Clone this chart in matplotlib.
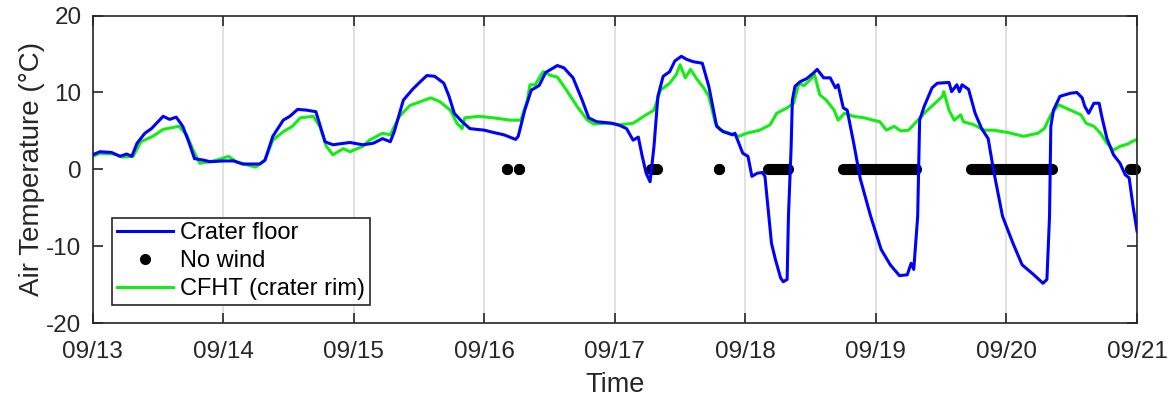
import matplotlib
matplotlib.use('Agg')
import matplotlib.pyplot as plt
from matplotlib.lines import Line2D
import numpy as np

plt.rcParams['font.family'] = ['Liberation Sans', 'DejaVu Sans']
plt.rcParams['axes.unicode_minus'] = False

# time in days since 09/13 00:00, temperature in degC
floor_t = [0.00, 0.056, 0.145, 0.21, 0.26, 0.30, 0.34, 0.40, 0.45, 0.54, 0.59, 0.64, 0.69, 0.74,
           0.78, 0.85, 0.90, 1.00, 1.08, 1.15, 1.28, 1.32, 1.38, 1.46, 1.51, 1.57, 1.64, 1.71,
           1.78, 1.84, 1.97, 2.07, 2.15, 2.22, 2.28, 2.31, 2.38, 2.45, 2.51, 2.56, 2.62, 2.69,
           2.73, 2.77, 2.83, 2.89, 3.00, 3.07, 3.15, 3.24, 3.26, 3.31, 3.36, 3.42, 3.47, 3.56,
           3.61, 3.68, 3.75, 3.80, 3.86, 3.98, 4.04, 4.09, 4.14, 4.18, 4.21, 4.24, 4.27, 4.30,
           4.33, 4.37, 4.42, 4.46, 4.51, 4.55, 4.60, 4.67, 4.72, 4.78, 4.83, 4.90, 4.92, 4.98,
           5.02, 5.05, 5.09, 5.13, 5.15, 5.18, 5.20, 5.23, 5.27, 5.29, 5.32, 5.33, 5.35, 5.36,
           5.38, 5.42, 5.47, 5.52, 5.55, 5.60, 5.65, 5.69, 5.71, 5.75, 5.78, 5.83, 5.88, 5.96,
           6.04, 6.11, 6.18, 6.24, 6.27, 6.29, 6.32, 6.335, 6.37, 6.43, 6.47, 6.56, 6.58, 6.62,
           6.64, 6.66, 6.71, 6.76, 6.81, 6.86, 6.90, 6.97, 7.05, 7.12, 7.21, 7.28, 7.31, 7.33,
           7.34, 7.36, 7.41, 7.49, 7.54, 7.58, 7.60, 7.63, 7.67, 7.71, 7.73, 7.77, 7.82, 7.87,
           7.91, 7.94, 7.97, 8.00]
floor_T = [1.9, 2.3, 2.2, 1.7, 2.0, 1.7, 3.4, 4.7, 5.3, 6.9, 6.5, 6.8, 5.6, 3.4,
           1.4, 1.2, 1.0, 1.1, 1.1, 0.7, 0.7, 1.2, 4.3, 6.4, 6.9, 7.8, 7.7, 7.5,
           3.6, 3.2, 3.5, 3.2, 3.4, 4.0, 3.6, 4.9, 9.0, 10.4, 11.4, 12.2, 12.1, 11.2,
           9.5, 7.3, 6.2, 5.3, 5.1, 4.8, 4.5, 3.9, 4.3, 7.7, 10.3, 10.9, 12.6, 13.5,
           13.2, 11.9, 9.0, 6.7, 6.2, 6.0, 5.7, 5.3, 3.8, 4.2, 1.7, -0.5, -1.6, 3.0,
           9.5, 12.1, 12.7, 14.1, 14.7, 14.3, 14.0, 13.8, 10.8, 5.6, 4.9, 4.5, 4.7, 2.1,
           1.7, -0.9, -0.5, -0.4, -0.9, -6.1, -9.6, -11.7, -14.1, -14.6, -14.3, -6.1, 2.6, 9.0,
           10.8, 11.4, 11.8, 12.5, 13.0, 11.9, 11.9, 10.6, 11.0, 8.0, 7.7, 3.4, -1.2, -6.1,
           -10.4, -12.4, -13.8, -13.7, -12.2, -13.0, -6.1, 6.4, 8.2, 10.6, 11.2, 11.3, 10.1, 11.0,
           10.1, 11.0, 10.4, 7.3, 5.3, 4.0, 0.0, -6.1, -9.6, -12.4, -13.7, -14.8, -14.3, -6.1,
           5.6, 7.7, 9.5, 9.9, 10.0, 9.3, 8.2, 7.3, 8.6, 8.6, 6.9, 4.0, 1.9, 0.8,
           -0.7, -1.1, -4.8, -8.0]

rim_t = [0.00, 0.056, 0.16, 0.23, 0.31, 0.37, 0.46, 0.54, 0.66, 0.72, 0.77, 0.82, 0.90, 0.97,
         1.04, 1.10, 1.18, 1.25, 1.32, 1.38, 1.46, 1.53, 1.59, 1.69, 1.74, 1.79, 1.84, 1.92,
         1.97, 2.07, 2.12, 2.22, 2.28, 2.35, 2.43, 2.51, 2.59, 2.66, 2.74, 2.79, 2.83, 2.85,
         2.96, 3.07, 3.20, 3.28, 3.33, 3.35, 3.39, 3.45, 3.51, 3.56, 3.63, 3.71, 3.79, 3.84,
         3.94, 4.04, 4.14, 4.24, 4.30, 4.35, 4.42, 4.47, 4.50, 4.54, 4.58, 4.63, 4.68, 4.72,
         4.77, 4.81, 4.88, 4.95, 5.01, 5.11, 5.19, 5.24, 5.32, 5.37, 5.41, 5.45, 5.50, 5.53,
         5.57, 5.62, 5.68, 5.71, 5.76, 5.83, 5.91, 5.98, 6.03, 6.08, 6.14, 6.19, 6.25, 6.30,
         6.37, 6.44, 6.51, 6.52, 6.56, 6.60, 6.65, 6.67, 6.75, 6.83, 6.90, 7.01, 7.13, 7.24,
         7.29, 7.34, 7.40, 7.49, 7.57, 7.61, 7.67, 7.72, 7.77, 7.82, 7.87, 7.93, 7.96, 8.00]
rim_T = [1.7, 2.1, 2.0, 1.6, 1.7, 3.6, 4.3, 5.2, 5.6, 4.5, 2.5, 0.8, 1.0, 1.3,
         1.7, 1.0, 0.6, 0.3, 1.2, 3.8, 4.9, 5.6, 6.7, 6.9, 5.6, 3.0, 1.9, 2.7,
         2.3, 3.0, 3.8, 4.7, 4.5, 6.9, 8.3, 8.8, 9.3, 8.8, 7.7, 6.0, 5.3, 6.7,
         6.9, 6.7, 6.4, 6.4, 9.0, 11.0, 11.0, 12.7, 12.2, 12.0, 10.3, 8.2, 6.4, 5.9,
         6.0, 5.8, 6.0, 7.1, 7.7, 10.3, 11.2, 12.3, 13.6, 11.9, 13.0, 11.7, 10.6, 9.5,
         6.0, 5.1, 4.7, 4.3, 4.7, 5.1, 5.8, 7.3, 8.0, 8.6, 11.2, 10.9, 11.7, 12.3,
         9.7, 9.0, 7.7, 6.4, 7.3, 6.9, 6.7, 6.4, 6.2, 5.1, 5.6, 5.0, 5.1, 6.0,
         7.3, 8.4, 9.5, 10.1, 7.7, 6.4, 7.1, 6.2, 5.8, 5.1, 5.1, 4.8, 4.3, 4.7,
         5.3, 7.1, 8.4, 7.7, 7.1, 6.0, 5.6, 4.7, 3.4, 2.5, 3.0, 3.3, 3.6, 3.9]

# no-wind periods, hours since 09/13 00:00 (start, end); plotted at 0 degC
nowind_start_h = [76.2, 78.4, 102.6, 115.2, 124.1, 138.0, 161.4, 190.8]
nowind_end_h = [76.2, 78.4, 103.8, 115.2, 127.9, 151.3, 176.4, 191.7]

day_ticks = [0, 1, 2, 3, 4, 5, 6, 7, 8]
day_labels = ['09/13', '09/14', '09/15', '09/16', '09/17', '09/18', '09/19', '09/20', '09/21']
y_ticks = [-20, -10, 0, 10, 20]

dark = '#262626'
blue = '#0000ff'
green = '#12ee12'
dot_ms = 8.0

fig = plt.figure(figsize=(11.73, 3.98), dpi=100)
ax = fig.add_axes([0.079, 0.1877, 0.8903, 0.7733])

# vertical grid at each day
for d in day_ticks:
    ax.axvline(d, color='#dcdcdc', lw=1.2, zorder=0)

# no wind: dots (a run of dots is drawn as a bar of the same width)
for s, e in zip(nowind_start_h, nowind_end_h):
    ax.plot([s / 24.0, e / 24.0], [0, 0], '-o', color='k', lw=dot_ms, ms=dot_ms,
            mec='none', solid_capstyle='butt', zorder=2, clip_on=False)
ax.plot(np.array(rim_t), np.array(rim_T), color=green, lw=2.2, zorder=2.5)
ax.plot(np.array(floor_t), np.array(floor_T), color=blue, lw=2.2, zorder=3)

ax.set_xlim(0, 8)
ax.set_ylim(-20, 20)
ax.set_xticks(day_ticks)
ax.set_xticklabels(day_labels)
ax.set_yticks(y_ticks)
ax.tick_params(direction='in', length=7, width=1.2, colors=dark, labelsize=17.5,
               top=True, right=True)
ax.tick_params(axis='x', pad=13)
ax.tick_params(axis='y', pad=8)
for s in ax.spines.values():
    s.set_color(dark)
    s.set_linewidth(1.2)
ax.set_xlabel('Time', fontsize=19.5, color=dark, labelpad=6)
ax.set_ylabel('Air Temperature (°C)', fontsize=20, color=dark, labelpad=1)

handles = [Line2D([], [], color=blue, lw=2.2),
           Line2D([], [], ls='none', marker='o', color='k', mec='none', ms=dot_ms),
           Line2D([], [], color=green, lw=2.2)]
labels = ['Crater floor', 'No wind', 'CFHT (crater rim)']
leg = ax.legend(handles, labels, loc='lower left',
                bbox_to_anchor=(0.0185, 0.0595), borderaxespad=0, fancybox=False,
                edgecolor=dark, fontsize=17, handlelength=2.4, handletextpad=0.3,
                labelspacing=0.25, borderpad=0.2, framealpha=1)
leg.get_frame().set_linewidth(1.2)

fig.savefig('out.png', dpi=100)
